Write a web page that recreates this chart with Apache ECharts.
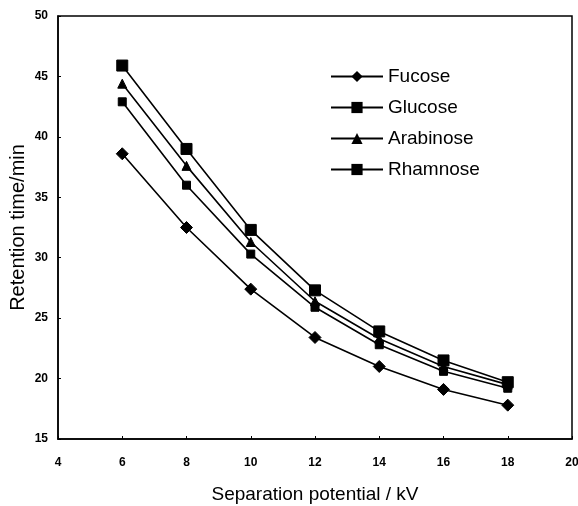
<!DOCTYPE html>
<html>
<head>
<meta charset="utf-8">
<script src="https://cdn.jsdelivr.net/npm/echarts@6/dist/echarts.min.js"></script>
<style>html,body{margin:0;padding:0;background:#fff}#c{width:578px;height:506px}</style>
</head>
<body>
<div id="c"></div>
<script>
const potentials = [6, 8, 10, 12, 14, 16, 18];
const fucose    = [38.6, 32.5, 27.4, 23.4, 21.0, 19.1, 17.8];
const glucose   = [42.9, 36.0, 30.3, 25.9, 22.8, 20.6, 19.2];
const arabinose = [44.4, 37.6, 31.3, 26.4, 23.3, 21.0, 19.5];
const rhamnose  = [45.9, 39.0, 32.3, 27.3, 23.9, 21.5, 19.7];
const seriesNames = ['Fucose', 'Glucose', 'Arabinose', 'Rhamnose'];
const xLabel = 'Separation potential / kV';
const yLabel = 'Retention time/min';

const pairs = arr => potentials.map((x, i) => [x, arr[i]]);
const styles = [
  {symbol: 'diamond', size: 12},
  {symbol: 'rect', size: 8},
  {symbol: 'triangle', size: 9},
  {symbol: 'rect', size: 11}
];
const allData = [fucose, glucose, arabinose, rhamnose];
const FONT = 'Liberation Sans, Arial, sans-serif';

const chart = echarts.init(document.getElementById('c'));
chart.setOption({
  animation: false,
  textStyle: {fontFamily: FONT, color: '#000'},
  grid: {left: 58, right: 6, top: 16, bottom: 67, show: true, borderColor: '#000', borderWidth: 1.5,
         containLabel: false, outerBoundsMode: 'none'},
  legend: {
    orient: 'vertical', left: 325, top: 62,
    itemWidth: 52, itemHeight: 14, itemGap: 12,
    data: seriesNames,
    textStyle: {fontSize: 19, lineHeight: 19, color: '#000', fontFamily: FONT}
  },
  xAxis: {
    type: 'value', min: 4, max: 20, interval: 2,
    name: xLabel, nameLocation: 'middle', nameGap: 46, nameMoveOverlap: false,
    nameTextStyle: {fontSize: 19, color: '#000'},
    axisLine: {show: true, lineStyle: {color: '#000', width: 1.5}},
    axisTick: {show: true, inside: true, length: 3, lineStyle: {color: '#000'}},
    axisLabel: {fontSize: 12, fontWeight: 'bold', color: '#000', margin: 18},
    splitLine: {show: false}
  },
  yAxis: {
    type: 'value', min: 15, max: 50, interval: 5,
    name: yLabel, nameLocation: 'middle', nameGap: 30, nameRotate: 90, nameMoveOverlap: false,
    nameTextStyle: {fontSize: 20, color: '#000'},
    axisLine: {show: true, lineStyle: {color: '#000', width: 1.5}},
    axisTick: {show: true, inside: true, length: 3, lineStyle: {color: '#000'}},
    axisLabel: {fontSize: 12, fontWeight: 'bold', color: '#000', margin: 10},
    splitLine: {show: false}
  },
  series: seriesNames.map((n, i) => ({
    name: n, type: 'line', data: pairs(allData[i]),
    symbol: styles[i].symbol, symbolSize: styles[i].size, showAllSymbol: true,
    lineStyle: {color: '#000', width: 1.6},
    itemStyle: {color: '#000', borderColor: '#000'},
    emphasis: {disabled: true}
  }))
});
</script>
</body>
</html>
